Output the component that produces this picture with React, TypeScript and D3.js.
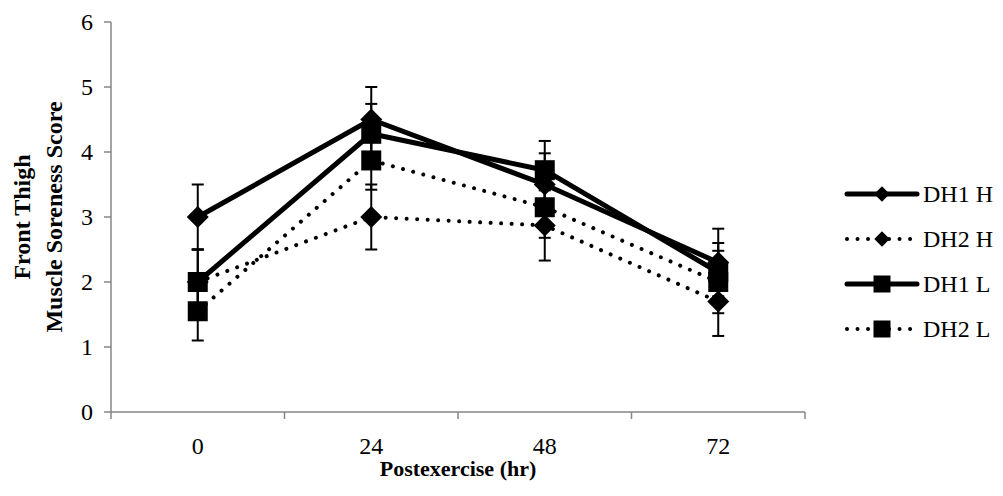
import React from 'react';
import * as d3 from 'd3';

// chart data
const hours = ['0', '24', '48', '72'];
const yTicks = [0, 1, 2, 3, 4, 5, 6];
const seriesNames = ['DH1 H', 'DH2 H', 'DH1 L', 'DH2 L'];
const dh1H = [3.0, 4.5, 3.5, 2.3];
const dh1HErr = [0.5, 0.5, 0.48, 0.52];
const dh2H = [2.0, 3.0, 2.87, 1.7];
const dh2HErr = [0.5, 0.5, 0.54, 0.53];
const dh1L = [2.0, 4.28, 3.72, 2.15];
const dh1LErr = [0.5, 0.46, 0.45, 0.45];
const dh2L = [1.55, 3.87, 3.15, 2.0];
const dh2LErr = [0.45, 0.45, 0.47, 0.48];

const series = [
  { name: seriesNames[0], values: dh1H, err: dh1HErr, marker: 'diamond', dotted: false },
  { name: seriesNames[1], values: dh2H, err: dh2HErr, marker: 'diamond', dotted: true },
  { name: seriesNames[2], values: dh1L, err: dh1LErr, marker: 'square', dotted: false },
  { name: seriesNames[3], values: dh2L, err: dh2LErr, marker: 'square', dotted: true },
];

const W = 1003;
const H = 496;
const left = 111, right = 805, top = 22, bottom = 412;
const font = '"Liberation Serif", "Times New Roman", serif';
const axisColor = '#868686';

function Marker({ type, x, y, size }: { type: string; x: number; y: number; size: number }) {
  if (type === 'square') {
    return <rect x={x - size / 2} y={y - size / 2} width={size} height={size} fill="#000" />;
  }
  const r = size * 0.55;
  return <path d={`M${x},${y - r}L${x + r},${y}L${x},${y + r}L${x - r},${y}Z`} fill="#000" />;
}

export default function App() {
  const x = d3.scaleBand().domain(hours).range([left, right]);
  const y = d3.scaleLinear().domain([0, 6]).range([bottom, top]);
  const cx = (h: string) => (x(h) as number) + x.bandwidth() / 2;

  const line = d3
    .line<number>()
    .x((_, i) => cx(hours[i]))
    .y(d => y(d));

  const bounds = [...hours.map(h => x(h) as number), right];

  // legend
  const legX0 = 847, legX1 = 917, legTextX = 923;
  const legY = d3.scalePoint().domain(seriesNames).range([194, 329]);

  return (
    <svg width={W} height={H} style={{ display: 'block', position: 'absolute', left: 0, top: 0 }}>
      <rect width={W} height={H} fill="#fff" />
      {/* axes */}
      <line x1={left} x2={left} y1={top} y2={bottom} stroke={axisColor} strokeWidth={1.5} />
      {yTicks.map(t => (
        <g key={t}>
          <line x1={left - 7} x2={left} y1={y(t)} y2={y(t)} stroke={axisColor} strokeWidth={1.5} />
          <text x={93} y={y(t) + 8} textAnchor="end" fontFamily={font} fontSize={24}>
            {t}
          </text>
        </g>
      ))}
      <line x1={left} x2={right} y1={bottom} y2={bottom} stroke={axisColor} strokeWidth={1.5} />
      {bounds.map((b, i) => (
        <line key={i} x1={b} x2={b} y1={bottom} y2={bottom + 7} stroke={axisColor} strokeWidth={1.5} />
      ))}
      {hours.map(h => (
        <text key={h} x={cx(h)} y={454} textAnchor="middle" fontFamily={font} fontSize={24}>
          {h}
        </text>
      ))}
      <text x={(left + right) / 2} y={476} textAnchor="middle" fontFamily={font} fontSize={22} fontWeight="bold">
        Postexercise (hr)
      </text>
      <g transform={`translate(0,${(top + bottom) / 2}) rotate(-90)`} fontFamily={font} fontSize={24} fontWeight="bold">
        <text x={0} y={30} textAnchor="middle">Front Thigh</text>
        <text x={0} y={62} textAnchor="middle">Muscle Soreness Score</text>
      </g>

      {/* series */}
      {series.map(s => (
        <g key={s.name}>
          <path
            d={line(s.values) as string}
            fill="none"
            stroke="#000"
            strokeWidth={s.dotted ? 4 : 5}
            strokeLinecap="round"
            strokeDasharray={s.dotted ? '0.01 10.5' : undefined}
          />
          {s.values.map((v, i) => {
            const px = cx(hours[i]);
            return (
              <g key={i}>
                <line x1={px} x2={px} y1={y(v - s.err[i])} y2={y(v + s.err[i])} stroke="#000" strokeWidth={2} />
                <line x1={px - 6} x2={px + 6} y1={y(v - s.err[i])} y2={y(v - s.err[i])} stroke="#000" strokeWidth={2} />
                <line x1={px - 6} x2={px + 6} y1={y(v + s.err[i])} y2={y(v + s.err[i])} stroke="#000" strokeWidth={2} />
                <Marker type={s.marker} x={px} y={y(v)} size={s.marker === 'square' ? 20 : 20} />
              </g>
            );
          })}
        </g>
      ))}

      {/* legend */}
      {series.map(s => {
        const ly = legY(s.name) as number;
        return (
          <g key={s.name}>
            <line
              x1={legX0}
              x2={legX1}
              y1={ly}
              y2={ly}
              stroke="#000"
              strokeWidth={s.dotted ? 4 : 5}
              strokeLinecap="round"
              strokeDasharray={s.dotted ? '0.01 10.5' : undefined}
            />
            <Marker type={s.marker} x={(legX0 + legX1) / 2} y={ly} size={s.marker === 'square' ? 17 : 14} />
            <text x={legTextX} y={ly + 8} fontFamily={font} fontSize={24}>
              {s.name}
            </text>
          </g>
        );
      })}
    </svg>
  );
}
